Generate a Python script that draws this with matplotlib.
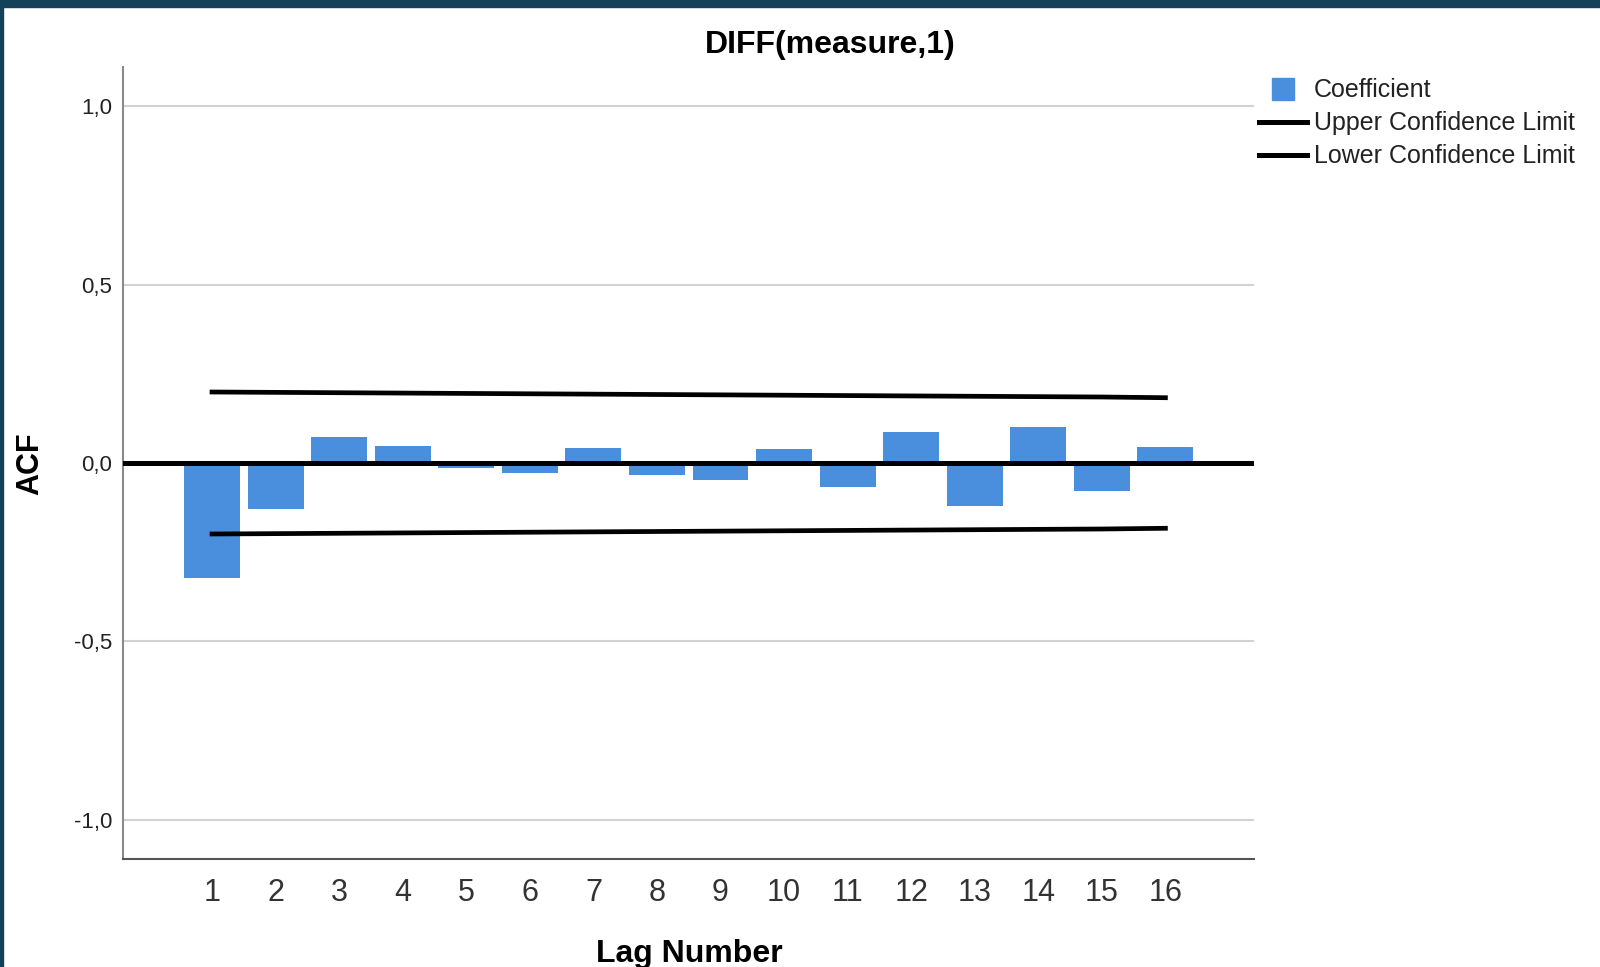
import matplotlib
matplotlib.use("Agg")
import matplotlib.pyplot as plt
from matplotlib.lines import Line2D
from matplotlib.patches import Rectangle
import numpy as np

plt.rcParams["font.family"] = ["Liberation Sans", "DejaVu Sans"]

# valores
lags = np.arange(1, 17)
coeficientes = [-0.321, -0.129, 0.072, 0.049, -0.015, -0.029, 0.042, -0.034,
                -0.048, 0.038, -0.068, 0.087, -0.121, 0.100, -0.079, 0.046]
limite_sup = [0.199, 0.198, 0.197, 0.196, 0.195, 0.194, 0.193, 0.192,
              0.191, 0.190, 0.189, 0.188, 0.187, 0.186, 0.185, 0.183]
limite_inf = [-0.199, -0.198, -0.197, -0.196, -0.195, -0.194, -0.193, -0.192,
              -0.191, -0.190, -0.189, -0.188, -0.187, -0.186, -0.185, -0.183]
y_ticks = [-1.0, -0.5, 0.0, 0.5, 1.0]
y_labels = ["-1,0", "-0,5", "0,0", "0,5", "1,0"]

AZUL = "#4a8ede"

fig = plt.figure(figsize=(16, 9.67), dpi=100)
ax = fig.add_axes([0.0769, 0.1117, 0.7071, 0.819])

# linhas de grade horizontais
for y in y_ticks:
    ax.axhline(y, color="#d2d2d2", lw=1.5, zorder=0)

ax.bar(lags, coeficientes, width=0.88, color=AZUL, zorder=2)
ax.axhline(0, color="black", lw=3.6, zorder=3)
ax.plot(lags, limite_sup, color="black", lw=3.4, zorder=4)
ax.plot(lags, limite_inf, color="black", lw=3.4, zorder=4)

ax.set_xlim(-0.4, 17.4)
ax.set_ylim(-1.11, 1.11)
ax.set_xticks(lags)
ax.set_xticklabels([str(i) for i in lags], fontsize=22, color="#333333")
ax.set_yticks(y_ticks)
ax.set_yticklabels(y_labels, fontsize=16, color="#222222")
ax.tick_params(axis="both", length=0)
ax.tick_params(axis="x", pad=14)
ax.tick_params(axis="y", pad=8)

for lado in ["top", "right"]:
    ax.spines[lado].set_visible(False)
ax.spines["left"].set_color("#8a8a8a")
ax.spines["left"].set_linewidth(1.5)
ax.spines["bottom"].set_color("#555555")
ax.spines["bottom"].set_linewidth(1.5)

fig.text(0.519, 0.9535, "DIFF(measure,1)", fontsize=23, weight="bold",
         ha="center", va="center")
fig.text(0.019, 0.521, "ACF", fontsize=22, weight="bold", rotation=90,
         ha="center", va="center")
fig.text(0.431, 0.0135, "Lag Number", fontsize=23, weight="bold",
         ha="center", va="center")

handles = [
    Line2D([], [], marker="s", ls="none", color=AZUL, markersize=16.5),
    Line2D([], [], color="black", lw=3.6),
    Line2D([], [], color="black", lw=3.6),
]
fig.legend(handles, ["Coefficient", "Upper Confidence Limit", "Lower Confidence Limit"],
           loc="upper left", bbox_to_anchor=(0.787, 0.919),
           bbox_transform=fig.transFigure, frameon=False, fontsize=18,
           handlelength=1.9, handletextpad=0.3, labelspacing=0.36,
           borderpad=0, borderaxespad=0, labelcolor="#222222")

# moldura escura do print original
fig.patches.append(Rectangle((0, 1 - 7 / 967), 1, 7 / 967, transform=fig.transFigure,
                             color="#13415a", zorder=10))
fig.patches.append(Rectangle((0, 0), 3 / 1600, 1, transform=fig.transFigure,
                             color="#13415a", zorder=10))

fig.savefig("out.png", dpi=100)
